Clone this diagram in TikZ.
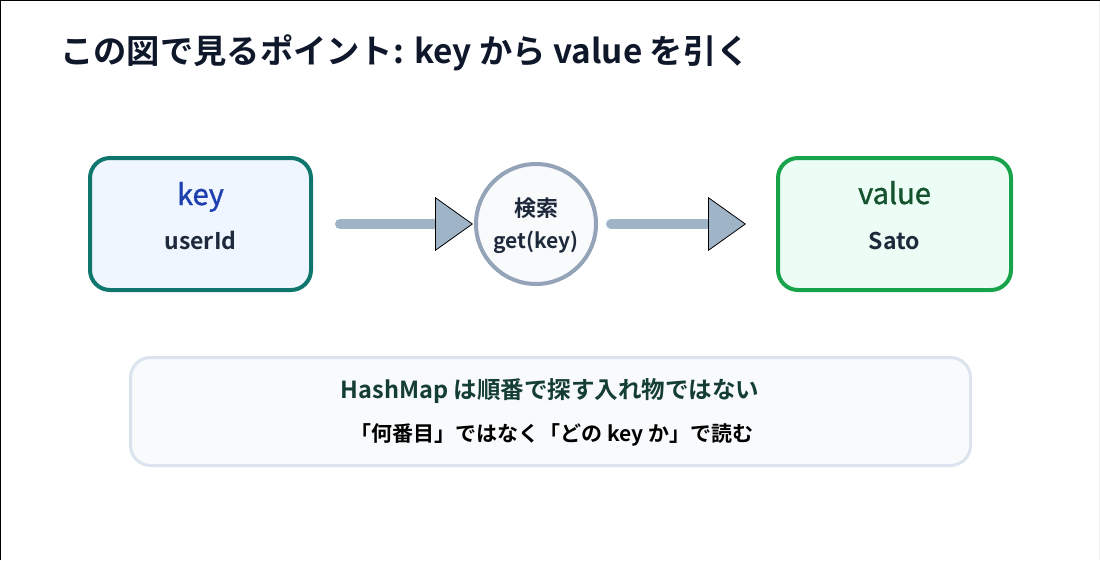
\documentclass[tikz,border=0pt]{standalone}
\usepackage{fontspec}
\setmainfont{Noto Sans CJK JP}[BoldFont={Noto Sans CJK JP Bold}]
\newfontfamily\medfont{Noto Sans CJK JP}[FakeBold=1.2]
\usetikzlibrary{arrows.meta}
\definecolor{titlec}{HTML}{0F172A}
\definecolor{darkc}{HTML}{1E293B}
\definecolor{keyc}{HTML}{1E40AF}
\definecolor{valc}{HTML}{14532D}
\definecolor{notec}{HTML}{143D33}
\definecolor{keyborder}{HTML}{0F766E}
\definecolor{keyfill}{HTML}{EFF6FF}
\definecolor{valborder}{HTML}{16A34A}
\definecolor{valfill}{HTML}{ECFDF5}
\definecolor{circborder}{HTML}{94A3B8}
\definecolor{softfill}{HTML}{F8FAFC}
\definecolor{arrowc}{HTML}{A0B4C8}
\definecolor{noteborder}{HTML}{DBE4EE}
\definecolor{edgec}{HTML}{EEEEEE}
\tikzset{
  card/.style={draw, line width=4pt, rounded corners=20pt, minimum height=132pt, inner sep=0pt},
  flow/.style={draw=arrowc, line width=10pt, line cap=round,
    -{Triangle[length=38pt,width=54pt,fill=arrowc,color=black,line width=0.8pt]}},
  lbl/.style={anchor=base, inner sep=0pt},
}
\begin{document}
\begin{tikzpicture}[x=1pt,y=-1pt]
\path[use as bounding box] (0,0) rectangle (1100,560);
\draw[black, line width=1.2pt] (0.6,560) -- (0.6,0.6) -- (1100,0.6);
\draw[edgec, line width=1pt] (1099.5,1.2) -- (1099.5,560);
\node[lbl, anchor=base west, text=titlec, font=\fontsize{33.3}{38}\selectfont\bfseries] (title) at (60,63) {この図で見るポイント: key から value を引く};
% key card
\node[card, draw=keyborder, fill=keyfill, minimum width=221pt] (key) at (200.5,224) {};
\node[lbl, text=keyc, font=\fontsize{29}{32}\medfont] (keylbl) at (200.5,205) {key};
\node[lbl, text=darkc, font=\fontsize{23}{26}\selectfont\bfseries] (keyval) at (200.5,249) {userId};
% search circle
\node[circle, draw=circborder, fill=softfill, line width=4pt, minimum size=120pt, inner sep=0pt] (search) at (536,224) {};
\node[lbl, text=darkc, font=\fontsize{22}{25}\selectfont\bfseries] (searchlbl) at (536,216) {検索};
\node[lbl, text=darkc, font=\fontsize{21}{24}\selectfont\bfseries] (searchfn) at (536,248) {get(key)};
% value card
\node[card, draw=valborder, fill=valfill, minimum width=233pt] (val) at (894.5,224) {};
\node[lbl, text=valc, font=\fontsize{29}{32}\medfont] (vallbl) at (894.5,204) {value};
\node[lbl, text=darkc, font=\fontsize{23}{26}\selectfont\bfseries] (valval) at (894.5,249) {Sato};
% arrows
\draw[flow, shorten <=27pt, shorten >=1pt] (key) -- (search);
\draw[flow, shorten <=13pt, shorten >=30pt] (search) -- (val);
% note
\node[draw=noteborder, fill=softfill, line width=3pt, rounded corners=20pt, minimum width=840pt, minimum height=108pt, inner sep=0pt] (note) at (550.5,411.5) {};
\node[lbl, text=notec, font=\fontsize{23.5}{26}\selectfont\bfseries] (note1) at (550,398) {HashMap は順番で探す入れ物ではない};
\node[lbl, text=black, font=\fontsize{21}{24}\selectfont\bfseries] (note2) at (552,441) {「何番目」ではなく「どの key か」で読む};
\end{tikzpicture}
\end{document}
